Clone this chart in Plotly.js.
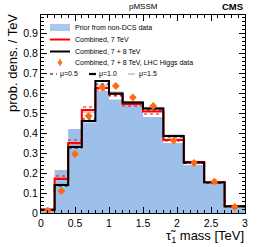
<!DOCTYPE html>
<html><head><meta charset="utf-8">
<script src="https://cdn.plot.ly/plotly-3.0.1.min.js"></script>
<style>html,body{margin:0;padding:0;background:#fff}#c{width:258px;height:247px}</style>
</head><body><div id="c"></div>
<script>
// bin edges (TeV)
const edges = [0, 0.2, 0.4, 0.6, 0.8, 1.0, 1.2, 1.5, 1.8, 2.1, 2.4, 2.7, 3.0];
// prior from non-DCS data
const prior = [0.023, 0.215, 0.42, 0.45, 0.61, 0.567, 0.54, 0.48, 0.35, 0.24, 0.145, 0.028];
// combined 7 TeV (mu=1.0)
const comb7 = [0.018, 0.17, 0.35, 0.515, 0.625, 0.595, 0.545, 0.507, 0.365, 0.255, 0.155, 0.035];
const comb7mu05 = [0.02, 0.185, 0.365, 0.53, 0.615, 0.585, 0.535, 0.495, 0.36, 0.25, 0.15, 0.033];
const comb7mu15 = [0.017, 0.178, 0.345, 0.505, 0.63, 0.6, 0.55, 0.515, 0.37, 0.258, 0.157, 0.036];
// combined 7+8 TeV (mu=1.0)
const comb78 = [0.015, 0.14, 0.33, 0.46, 0.66, 0.598, 0.552, 0.523, 0.385, 0.252, 0.152, 0.032];
const comb78mu05 = [0.014, 0.135, 0.325, 0.47, 0.645, 0.59, 0.545, 0.515, 0.38, 0.248, 0.15, 0.031];
const comb78mu15 = [0.016, 0.145, 0.335, 0.455, 0.64, 0.605, 0.558, 0.528, 0.39, 0.255, 0.154, 0.033];
// combined 7+8 TeV with LHC Higgs data
const higgs = [0.012, 0.11, 0.295, 0.485, 0.627, 0.635, 0.578, 0.535, 0.362, 0.25, 0.157, 0.03];
const higgsErr = [0.008, 0.01, 0.012, 0.012, 0.012, 0.012, 0.012, 0.012, 0.012, 0.01, 0.01, 0.008];
const xTicks = [0, 0.5, 1, 1.5, 2, 2.5, 3];

const centers = edges.slice(0, -1).map((e, i) => (e + edges[i + 1]) / 2);
function step(vals) { return { x: edges.slice(), y: vals.concat([vals[vals.length - 1]]) }; }
function hist(vals, line, extra) {
  const s = step(vals);
  return Object.assign({ type: 'scatter', mode: 'lines', x: s.x, y: s.y, line: Object.assign({ shape: 'hv' }, line), hoverinfo: 'skip', showlegend: false }, extra || {});
}
const BLUE = '#9cc0e9';
const ORANGE = '#ff6a10';
const traces = [
  hist(prior, { width: 0, color: BLUE }, { fill: 'tozeroy', fillcolor: BLUE }),
  hist(comb78mu15, { width: 0.8, color: '#999999' }),
  hist(comb7mu15, { width: 0.8, color: '#ff6666' }),
  hist(comb7mu05, { width: 1, color: '#ff0000', dash: 'dot' }),
  hist(comb78mu05, { width: 1, color: '#000000', dash: 'dot' }),
  hist(comb7, { width: 2, color: '#ff0000' }),
  hist(comb78, { width: 2, color: '#000000' }),
  { type: 'scatter', mode: 'markers', x: centers, y: higgs, showlegend: false, hoverinfo: 'skip',
    marker: { symbol: 'diamond', size: 6, color: ORANGE },
    error_y: { type: 'data', array: higgsErr, color: ORANGE, thickness: 1.2, width: 0 } }
];

// plot area in pixels
const L = 41, R = 245, T = 15, B = 213;
const px = X => (X - L) / (R - L);
const py = Y => (B - Y) / (B - T);
const shapes = [];
const ann = [];
function lgLine(x0, x1, y, line) { shapes.push({ type: 'line', xref: 'paper', yref: 'paper', x0: px(x0), x1: px(x1), y0: py(y), y1: py(y), line: line }); }
function lgText(x, y, t, size) { ann.push({ xref: 'paper', yref: 'paper', x: px(x), y: py(y), xanchor: 'left', yanchor: 'middle', showarrow: false, text: t, font: { size: size || 7, color: '#000', family: 'Liberation Sans, Arial, sans-serif' } }); }
shapes.push({ type: 'rect', xref: 'paper', yref: 'paper', x0: px(50), x1: px(70), y0: py(24), y1: py(31), fillcolor: '#a6c8ee', line: { width: 0 } });
lgText(73, 27.5, 'Prior from non-DCS data');
lgLine(50, 70, 39.5, { color: '#ff0000', width: 2 });
lgText(73, 39.5, 'Combined, 7 TeV');
lgLine(50, 70, 51.5, { color: '#000000', width: 2 });
lgText(73, 51.5, 'Combined, 7 + 8 TeV');
lgLine(60, 60, 59.5, { color: ORANGE, width: 1.2 });
shapes.push({ type: 'line', xref: 'paper', yref: 'paper', x0: px(60), x1: px(60), y0: py(59), y1: py(66), line: { color: ORANGE, width: 1.2 } });
shapes.push({ type: 'path', xref: 'paper', yref: 'paper', path: `M ${px(60)} ${py(59.5)} L ${px(62.5)} ${py(62.5)} L ${px(60)} ${py(65.5)} L ${px(57.5)} ${py(62.5)} Z`, fillcolor: ORANGE, line: { width: 0 } });
lgText(73, 62.5, 'Combined, 7 + 8 TeV, LHC Higgs data');
lgLine(50, 57, 74, { color: '#000', width: 1, dash: 'dot' });
lgText(58, 74, 'μ=0.5');
lgLine(89, 96, 74, { color: '#000', width: 2.2 });
lgText(97, 74, 'μ=1.0');
lgLine(128, 135, 74, { color: '#888', width: 0.8 });
lgText(137, 74, 'μ=1.5');

// titles
ann.push({ xref: 'paper', yref: 'paper', x: px(143), y: py(6), xanchor: 'center', yanchor: 'middle', showarrow: false, text: 'pMSSM', font: { size: 8, color: '#000', family: 'Liberation Sans, Arial, sans-serif' } });
ann.push({ xref: 'paper', yref: 'paper', x: px(245), y: py(6.5), xanchor: 'right', yanchor: 'middle', showarrow: false, text: '<b>CMS</b>', font: { size: 9.5, color: '#000', family: 'Liberation Sans, Arial, sans-serif' } });
ann.push({ xref: 'paper', yref: 'paper', x: px(12), y: py(12), xanchor: 'center', yanchor: 'top', textangle: -90, showarrow: false, text: 'prob. dens. / TeV', font: { size: 13, color: '#000', family: 'Liberation Sans, Arial, sans-serif' } });
ann.push({ xref: 'paper', yref: 'paper', x: px(246), y: py(236), xanchor: 'right', yanchor: 'middle', showarrow: false, text: 'τ\u0303<sub>1</sub> mass [TeV]', font: { size: 13, color: '#000', family: 'Liberation Sans, Arial, sans-serif' } });

const tickFont = { size: 10.5, color: '#000', family: 'Liberation Sans, Arial, sans-serif' };
const layout = {
  width: 258, height: 247,
  margin: { l: L, r: 258 - R, t: T, b: 247 - B, pad: 0 },
  paper_bgcolor: '#fff', plot_bgcolor: '#fff',
  showlegend: false,
  xaxis: { range: [0, 3], tickvals: xTicks, ticktext: xTicks.map(String), ticks: 'inside', ticklen: 6, tickwidth: 1, tickcolor: '#000',
    showline: true, linecolor: '#000', linewidth: 1, mirror: 'allticks', showgrid: false, zeroline: false, tickfont: tickFont,
    minor: { dtick: 0.1, ticks: 'inside', ticklen: 3, tickcolor: '#000', showgrid: false } },
  yaxis: { range: [0, 0.99], dtick: 0.1, tick0: 0, ticks: 'inside', ticklen: 6, tickwidth: 1, tickcolor: '#000',
    showline: true, linecolor: '#000', linewidth: 1, mirror: 'allticks', showgrid: false, zeroline: false, tickfont: tickFont,
    minor: { dtick: 0.02, ticks: 'inside', ticklen: 3, tickcolor: '#000', showgrid: false } },
  shapes: shapes,
  annotations: ann
};
Plotly.newPlot('c', traces, layout, { displayModeBar: false, staticPlot: true });
</script></body></html>
